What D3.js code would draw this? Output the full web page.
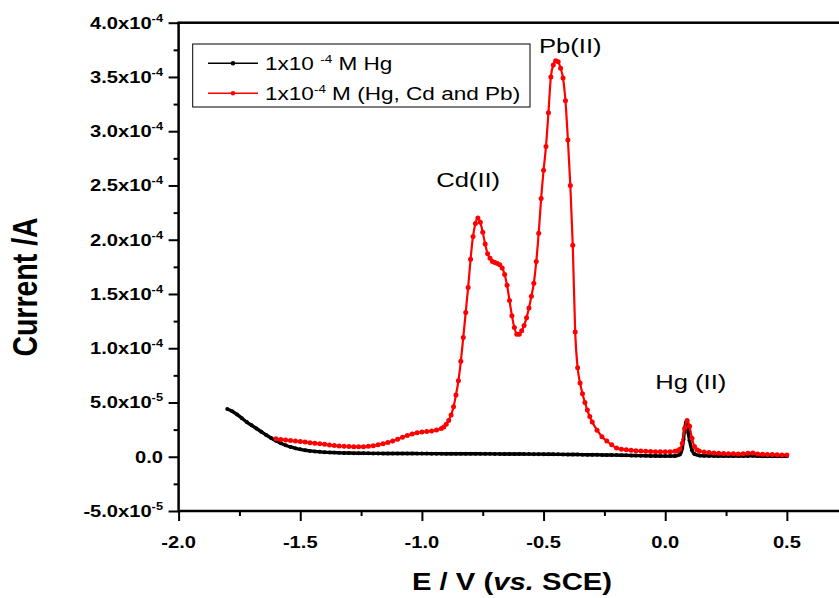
<!DOCTYPE html>
<html>
<head>
<meta charset="utf-8">
<script src="https://cdn.jsdelivr.net/npm/d3@7/dist/d3.min.js"></script>
<style>
  html, body { margin: 0; padding: 0; background: #fff; }
  svg { display: block; font-family: "Liberation Sans", Arial, sans-serif; }
</style>
</head>
<body>
<svg id="chart" width="839" height="598"></svg>
<script>
// ---------------- DATA ----------------
// Potential (V vs SCE) and current (A)
const blackScan = [
  [-1.80,4.40e-5],[-1.78,4.20e-5],[-1.76,3.90e-5],[-1.74,3.55e-5],[-1.72,3.20e-5],[-1.70,2.90e-5],
  [-1.68,2.60e-5],[-1.66,2.30e-5],[-1.64,2.00e-5],[-1.62,1.72e-5],[-1.60,1.48e-5],[-1.58,1.25e-5],
  [-1.56,1.06e-5],[-1.54,9.0e-6],[-1.52,7.8e-6],[-1.50,6.8e-6],[-1.48,6.0e-6],[-1.46,5.4e-6],
  [-1.44,4.9e-6],[-1.42,4.5e-6],[-1.40,4.2e-6],[-1.38,4.0e-6],[-1.36,3.8e-6],[-1.34,3.65e-6],
  [-1.32,3.5e-6],[-1.30,3.4e-6],[-1.28,3.3e-6],[-1.26,3.25e-6],[-1.24,3.2e-6],[-1.22,3.15e-6],
  [-1.20,3.1e-6],[-1.18,3.1e-6],[-1.16,3.05e-6],[-1.14,3.05e-6],[-1.12,3.0e-6],[-1.10,3.0e-6],
  [-1.08,3.0e-6],[-1.06,2.95e-6],[-1.04,2.95e-6],[-1.02,2.9e-6],[-1.00,2.9e-6],[-0.98,2.9e-6],
  [-0.96,2.85e-6],[-0.94,2.85e-6],[-0.92,2.85e-6],[-0.90,2.8e-6],[-0.88,2.8e-6],[-0.86,2.8e-6],
  [-0.84,2.75e-6],[-0.82,2.75e-6],[-0.80,2.7e-6],[-0.78,2.7e-6],[-0.76,2.7e-6],[-0.74,2.65e-6],
  [-0.72,2.65e-6],[-0.70,2.6e-6],[-0.68,2.6e-6],[-0.66,2.55e-6],[-0.64,2.55e-6],[-0.62,2.5e-6],
  [-0.60,2.5e-6],[-0.58,2.45e-6],[-0.56,2.45e-6],[-0.54,2.4e-6],[-0.52,2.4e-6],[-0.50,2.35e-6],
  [-0.48,2.3e-6],[-0.46,2.25e-6],[-0.44,2.2e-6],[-0.42,2.15e-6],[-0.40,2.1e-6],[-0.38,2.05e-6],
  [-0.36,2.0e-6],[-0.34,1.95e-6],[-0.32,1.9e-6],[-0.30,1.85e-6],[-0.28,1.8e-6],[-0.26,1.7e-6],
  [-0.24,1.6e-6],[-0.22,1.55e-6],[-0.20,1.5e-6],[-0.18,1.4e-6],[-0.16,1.3e-6],[-0.14,1.2e-6],
  [-0.12,1.1e-6],[-0.10,1.0e-6],[-0.08,0.9e-6],[-0.06,0.8e-6],[-0.04,0.7e-6],[-0.02,0.6e-6],
  [0.00,0.6e-6],[0.02,0.6e-6],[0.04,0.7e-6],[0.06,2.0e-6],[0.07,8.0e-6],[0.075,1.6e-5],
  [0.08,2.6e-5],[0.085,3.15e-5],[0.09,2.9e-5],[0.095,2.2e-5],[0.10,1.5e-5],[0.11,6.0e-6],
  [0.12,2.5e-6],[0.14,1.2e-6],[0.16,0.9e-6],[0.18,0.8e-6],[0.20,0.8e-6],[0.22,0.7e-6],
  [0.24,0.7e-6],[0.26,0.7e-6],[0.28,0.6e-6],[0.30,0.6e-6],[0.32,0.6e-6],[0.34,0.8e-6],
  [0.36,0.9e-6],[0.38,0.6e-6],[0.40,0.5e-6],[0.42,0.5e-6],[0.44,0.5e-6],[0.46,0.4e-6],
  [0.48,0.4e-6],[0.50,0.4e-6]
];

const redScan = [
  [-1.60,1.65e-5],[-1.58,1.60e-5],[-1.56,1.55e-5],[-1.54,1.50e-5],[-1.52,1.45e-5],[-1.50,1.40e-5],
  [-1.48,1.35e-5],[-1.46,1.30e-5],[-1.44,1.25e-5],[-1.42,1.20e-5],[-1.40,1.15e-5],[-1.38,1.09e-5],
  [-1.36,1.03e-5],[-1.34,0.99e-5],[-1.32,0.96e-5],[-1.30,0.94e-5],[-1.28,0.92e-5],[-1.26,0.91e-5],
  [-1.24,0.92e-5],[-1.22,0.96e-5],[-1.20,1.02e-5],[-1.18,1.10e-5],[-1.16,1.20e-5],[-1.14,1.32e-5],
  [-1.12,1.46e-5],[-1.10,1.62e-5],[-1.08,1.80e-5],[-1.06,1.96e-5],[-1.04,2.10e-5],[-1.02,2.20e-5],
  [-1.00,2.28e-5],[-0.98,2.33e-5],[-0.96,2.38e-5],[-0.94,2.46e-5],[-0.92,2.60e-5],
  [-0.91,2.75e-5],[-0.90,3.00e-5],[-0.89,3.35e-5],[-0.88,3.85e-5],[-0.87,4.60e-5],[-0.86,5.70e-5],
  [-0.85,7.00e-5],[-0.84,8.80e-5],[-0.83,1.10e-4],[-0.82,1.33e-4],[-0.81,1.56e-4],[-0.80,1.82e-4],
  [-0.79,2.03e-4],[-0.78,2.15e-4],[-0.77,2.20e-4],[-0.76,2.16e-4],[-0.75,2.07e-4],[-0.74,1.96e-4],
  [-0.73,1.87e-4],[-0.72,1.83e-4],[-0.71,1.80e-4],[-0.70,1.79e-4],[-0.69,1.78e-4],[-0.68,1.77e-4],
  [-0.67,1.74e-4],[-0.66,1.68e-4],[-0.65,1.58e-4],[-0.64,1.44e-4],[-0.63,1.30e-4],[-0.62,1.19e-4],
  [-0.61,1.13e-4],[-0.60,1.13e-4],[-0.59,1.16e-4],[-0.58,1.21e-4],[-0.57,1.28e-4],[-0.56,1.37e-4],
  [-0.55,1.48e-4],[-0.54,1.60e-4],[-0.53,1.80e-4],[-0.52,2.06e-4],[-0.51,2.38e-4],[-0.50,2.64e-4],
  [-0.49,2.86e-4],[-0.48,3.17e-4],[-0.47,3.50e-4],[-0.46,3.61e-4],[-0.45,3.65e-4],[-0.44,3.64e-4],
  [-0.43,3.58e-4],[-0.42,3.49e-4],[-0.41,3.28e-4],[-0.40,2.92e-4],[-0.39,2.50e-4],[-0.38,1.95e-4],
  [-0.37,1.15e-4],[-0.36,8.20e-5],[-0.35,6.80e-5],[-0.34,5.80e-5],[-0.33,5.00e-5],[-0.32,4.30e-5],
  [-0.31,3.70e-5],[-0.30,3.20e-5],[-0.28,2.45e-5],[-0.26,1.85e-5],[-0.24,1.45e-5],[-0.22,1.10e-5],
  [-0.20,8.0e-6],[-0.18,7.0e-6],[-0.16,6.4e-6],[-0.14,5.9e-6],[-0.12,5.5e-6],[-0.10,5.2e-6],
  [-0.08,5.0e-6],[-0.06,4.8e-6],[-0.04,4.7e-6],[-0.02,4.6e-6],[0.00,4.6e-6],[0.02,4.7e-6],
  [0.04,5.0e-6],[0.05,5.5e-6],[0.06,7.0e-6],[0.07,1.25e-5],[0.08,2.60e-5],[0.09,3.35e-5],
  [0.10,2.80e-5],[0.11,1.70e-5],[0.12,9.5e-6],[0.13,6.5e-6],[0.14,5.2e-6],[0.16,4.3e-6],
  [0.18,3.8e-6],[0.20,3.5e-6],[0.22,3.2e-6],[0.24,3.0e-6],[0.26,2.8e-6],[0.28,2.7e-6],
  [0.30,2.6e-6],[0.32,2.7e-6],[0.34,3.3e-6],[0.36,3.5e-6],[0.38,2.6e-6],[0.40,2.3e-6],
  [0.42,2.1e-6],[0.44,2.0e-6],[0.46,1.8e-6],[0.48,1.7e-6],[0.50,1.6e-6]
];

const xMajorTicks = [-2.0, -1.5, -1.0, -0.5, 0.0, 0.5];
const xTickLabels = ["-2.0", "-1.5", "-1.0", "-0.5", "0.0", "0.5"];
const xMinorTicks = [-1.75, -1.25, -0.75, -0.25, 0.25];
const yMajorTicks = [-5e-5, 0, 5e-5, 1e-4, 1.5e-4, 2e-4, 2.5e-4, 3e-4, 3.5e-4, 4e-4];
const yTickMantissa = ["-5.0", "0.0", "5.0", "1.0", "1.5", "2.0", "2.5", "3.0", "3.5", "4.0"];
const yTickExponent = ["-5", "", "-5", "-4", "-4", "-4", "-4", "-4", "-4", "-4"];
const yMinorTicks = [-2.5e-5, 2.5e-5, 7.5e-5, 1.25e-4, 1.75e-4, 2.25e-4, 2.75e-4, 3.25e-4, 3.75e-4];
const seriesNames = ["1x10 |-4| M Hg", "1x10|-4| M (Hg, Cd and Pb)"];
const seriesColors = ["#000000", "#ff0000"];
const peakLabels = [
  { text: "Cd(II)", E: -0.81, I: 2.49e-4 },
  { text: "Pb(II)", E: -0.39, I: 3.72e-4 },
  { text: "Hg (II)", E: 0.105, I: 6.2e-5 }
];

// ---------------- CHART ----------------
const SX = 1.22; // horizontal stretch of the original figure's lettering
const svg = d3.select("#chart");
const x = d3.scaleLinear().domain([-2.0, 0.75]).range([178.6, 847.7]);
const y = d3.scaleLinear().domain([-5e-5, 4e-4]).range([511, 22.7]);

// frame
svg.append("rect")
  .attr("x", x(-2.0)).attr("y", y(4e-4))
  .attr("width", x(0.75) - x(-2.0)).attr("height", y(-5e-5) - y(4e-4))
  .attr("fill", "none").attr("stroke", "#000").attr("stroke-width", 2.5);

// axes ticks
function styleAxis(g) {
  g.select(".domain").remove();
  g.selectAll(".tick line").attr("stroke", "#000").attr("stroke-width", 2);
  g.selectAll(".tick text").remove();
}
svg.append("g").attr("transform", `translate(0,${y(-5e-5)})`)
  .call(d3.axisBottom(x).tickValues(xMajorTicks).tickSize(10)).call(styleAxis);
svg.append("g").attr("transform", `translate(0,${y(-5e-5)})`)
  .call(d3.axisBottom(x).tickValues(xMinorTicks).tickSize(5)).call(styleAxis);
svg.append("g").attr("transform", `translate(${x(-2.0)},0)`)
  .call(d3.axisLeft(y).tickValues(yMajorTicks).tickSize(10)).call(styleAxis);
svg.append("g").attr("transform", `translate(${x(-2.0)},0)`)
  .call(d3.axisLeft(y).tickValues(yMinorTicks).tickSize(5)).call(styleAxis);

// x tick labels
xMajorTicks.forEach((v, i) => {
  svg.append("text")
    .attr("transform", `translate(${x(v)},548) scale(${SX},1)`)
    .attr("text-anchor", "middle")
    .attr("font-weight", "bold").attr("font-size", 16.5)
    .text(xTickLabels[i]);
});

// y tick labels with superscript exponents
yMajorTicks.forEach((v, i) => {
  const t = svg.append("text")
    .attr("transform", `translate(163,${y(v) + 6}) scale(${SX},1)`)
    .attr("text-anchor", "end")
    .attr("font-weight", "bold").attr("font-size", 16.5);
  if (yTickExponent[i]) {
    t.append("tspan").text(yTickMantissa[i] + "x10");
    t.append("tspan").attr("dy", -7).attr("font-size", 10.5).text(yTickExponent[i]);
  } else {
    t.text(yTickMantissa[i]);
  }
});

// axis titles
const xt = svg.append("text")
  .attr("transform", `translate(512,590) scale(${SX},1)`)
  .attr("text-anchor", "middle").attr("font-weight", "bold").attr("font-size", 24);
xt.append("tspan").text("E / V (");
xt.append("tspan").attr("font-style", "italic").text("vs.");
xt.append("tspan").text(" SCE)");

svg.append("text")
  .attr("transform", `translate(37,287) scale(${SX},1) rotate(-90)`)
  .attr("text-anchor", "middle").attr("font-weight", "bold").attr("font-size", 28.5)
  .text("Current /A");

// curves
const line = d3.line().x(d => x(d[0])).y(d => y(d[1])).curve(d3.curveMonotoneX);
const scans = [blackScan, redScan];
const widths = [3.4, 2.2];
const radii = [2.0, 2.5];
scans.forEach((data, k) => {
  svg.append("path").datum(data)
    .attr("d", line).attr("fill", "none")
    .attr("stroke", seriesColors[k]).attr("stroke-width", widths[k])
    .attr("stroke-linejoin", "round");
  svg.append("g").selectAll("circle").data(data).join("circle")
    .attr("cx", d => x(d[0])).attr("cy", d => y(d[1])).attr("r", radii[k])
    .attr("fill", seriesColors[k]);
});

// peak annotations
peakLabels.forEach(p => {
  svg.append("text")
    .attr("transform", `translate(${x(p.E)},${y(p.I)}) scale(${SX},1)`)
    .attr("text-anchor", "middle").attr("font-size", 21)
    .text(p.text);
});

// legend
svg.append("rect").attr("x", 192.7).attr("y", 44).attr("width", 337.3).attr("height", 63)
  .attr("fill", "#fff").attr("stroke", "#000").attr("stroke-width", 1);
seriesNames.forEach((name, k) => {
  const ly = 63.3 + k * 30;
  svg.append("line").attr("x1", 208).attr("x2", 258).attr("y1", ly).attr("y2", ly)
    .attr("stroke", seriesColors[k]).attr("stroke-width", 1.6);
  svg.append("circle").attr("cx", 233).attr("cy", ly).attr("r", 2.3).attr("fill", seriesColors[k]);
  const parts = name.split("|");
  const t = svg.append("text")
    .attr("transform", `translate(265,${ly + 6.5}) scale(${SX},1)`)
    .attr("font-size", 18.5);
  t.append("tspan").text(parts[0]);
  t.append("tspan").attr("dy", -7).attr("font-size", 11).text(parts[1]);
  t.append("tspan").attr("dy", 7).text(parts[2]);
});
</script>
</body>
</html>
